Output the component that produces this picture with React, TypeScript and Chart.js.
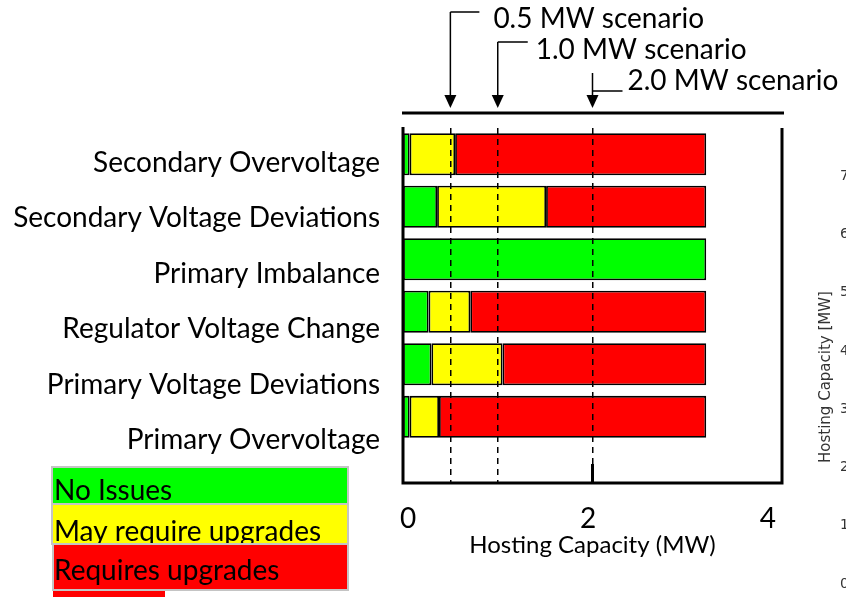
import React, { useEffect, useRef } from "react";
import { Chart, registerables } from "chart.js";

Chart.register(...registerables);

// ---- data ----
const categories = [
  "Secondary Overvoltage",
  "Secondary Voltage Deviations",
  "Primary Imbalance",
  "Regulator Voltage Change",
  "Primary Voltage Deviations",
  "Primary Overvoltage",
];
const barPositions = [0, 1, 2, 3, 4, 5];
const noIssues = [0.07, 0.36, 3.2, 0.27, 0.3, 0.07];
const mayRequire = [0.48, 1.15, 0, 0.44, 0.75, 0.31];
const requiresUpgrades = [2.65, 1.69, 0, 2.49, 2.15, 2.82];
const xTickValues = [0, 2, 4];
const scenarioValues = [0.5, 1.0, 2.0];
const scenarioLabels = ["0.5 MW scenario", "1.0 MW scenario", "2.0 MW scenario"];
const legendLabels = ["No Issues", "May require upgrades", "Requires upgrades"];
const sideTickLabels = ["7", "6", "5", "4", "3", "2", "1", "0"];
const sideAxisTitle = "Hosting Capacity [MW]";
const xAxisTitle = "Hosting Capacity (MW)";

const GREEN = "#00ff00";
const YELLOW = "#ffff00";
const RED = "#ff0000";
const FONT = "Lato, 'Open Sans', sans-serif";

const mk = (label: string, arr: number[], color: string) => ({
  label,
  data: arr.map((v, i) => ({ x: v, y: barPositions[i] })),
  backgroundColor: color,
  borderColor: "#000",
  borderWidth: 1.8,
  borderSkipped: false,
  categoryPercentage: 0.8,
  barPercentage: 1,
  xAxisID: "x",
  yAxisID: "y",
});

// arrow geometry for the scenario call-outs
const arrowSpecs = [
  { vTop: 12, hY: 12, hLen: 29, textDx: 43, textY: 19 },
  { vTop: 42, hY: 42, hLen: 30, textDx: 38, textY: 50 },
  { vTop: 73, hY: 91, hLen: 30, textDx: 35, textY: 81 },
];

const overlayPlugin = {
  id: "overlay",
  afterDraw(chart: any) {
    const { ctx, chartArea: a, scales } = chart;
    const xs = scales.x;
    ctx.save();
    ctx.strokeStyle = "#000";
    ctx.lineCap = "butt";
    // frame
    ctx.lineWidth = 3;
    ctx.beginPath();
    ctx.moveTo(a.left, a.top - 1);
    ctx.lineTo(a.left, a.bottom);
    ctx.moveTo(a.left - 1.5, a.bottom);
    ctx.lineTo(a.right + 1.5, a.bottom);
    ctx.moveTo(a.right, a.top);
    ctx.lineTo(a.right, a.bottom);
    // top rule
    ctx.moveTo(a.left - 1, a.top - 15);
    ctx.lineTo(a.right + 2, a.top - 15);
    // thick tick at 2
    const x2 = xs.getPixelForValue(2);
    ctx.moveTo(x2, a.bottom - 19);
    ctx.lineTo(x2, a.bottom);
    ctx.stroke();

    // scenario arrows
    ctx.lineWidth = 1.5;
    ctx.fillStyle = "#000";
    ctx.font = `28px ${FONT}`;
    ctx.textBaseline = "middle";
    ctx.textAlign = "left";
    scenarioValues.forEach((v, i) => {
      const s = arrowSpecs[i];
      const x = xs.getPixelForValue(v);
      const tip = a.top - 20;
      ctx.beginPath();
      ctx.moveTo(x, s.vTop);
      ctx.lineTo(x, tip - 12);
      ctx.moveTo(x, s.hY);
      ctx.lineTo(x + s.hLen, s.hY);
      ctx.stroke();
      ctx.beginPath();
      ctx.moveTo(x - 6, tip - 13);
      ctx.lineTo(x + 6, tip - 13);
      ctx.lineTo(x, tip);
      ctx.closePath();
      ctx.fill();
      ctx.fillText(scenarioLabels[i], x + s.textDx, s.textY);
    });

    // legend boxes
    const colors = [GREEN, YELLOW, RED];
    const boxes = [
      { x: 52, y: 467, w: 296, h: 37, ty: 500 },
      { x: 52, y: 504, w: 296, h: 40, ty: 541 },
      { x: 53, y: 544, w: 295, h: 46, ty: 580 },
    ];
    ctx.textBaseline = "alphabetic";
    ctx.font = `28px ${FONT}`;
    boxes.forEach((b, i) => {
      ctx.fillStyle = colors[i];
      ctx.fillRect(b.x, b.y, b.w, b.h);
      if (i === 2) ctx.fillRect(b.x, b.y + b.h, 112, 8);
      ctx.strokeStyle = "#c4c4c4";
      ctx.lineWidth = 2;
      ctx.strokeRect(b.x, b.y, b.w, b.h);
      ctx.fillStyle = "#000";
      ctx.fillText(legendLabels[i], 54, b.ty);
    });

    // clipped neighbouring panel on the right
    ctx.fillStyle = "#333";
    ctx.font = "14px 'DejaVu Sans', sans-serif";
    ctx.textBaseline = "middle";
    ctx.textAlign = "left";
    sideTickLabels.forEach((t, i) => {
      ctx.fillText(t, 840, 176 + i * 58.3);
    });
    ctx.save();
    ctx.translate(826, 377);
    ctx.rotate(-Math.PI / 2);
    ctx.textAlign = "center";
    ctx.font = "15px 'DejaVu Sans', sans-serif";
    ctx.fillText(sideAxisTitle, 0, 0);
    ctx.restore();

    ctx.restore();
  },
};

export default function App() {
  const ref = useRef<HTMLCanvasElement>(null);
  useEffect(() => {
    if (!ref.current) return;
    const chart = new Chart(ref.current, {
      type: "bar",
      data: {
        datasets: [
          mk(legendLabels[0], noIssues, GREEN),
          mk(legendLabels[1], mayRequire, YELLOW),
          mk(legendLabels[2], requiresUpgrades, RED),
        ] as any,
      },
      options: {
        indexAxis: "y",
        responsive: false,
        animation: false,
        layout: { padding: { top: 128, right: 64, left: 0, bottom: 0 } },
        plugins: { legend: { display: false }, tooltip: { enabled: false } },
        scales: {
          x: {
            type: "linear",
            min: 0,
            max: 4,
            stacked: true,
            position: "bottom",
            afterBuildTicks: (s: any) => {
              s.ticks = scenarioValues.map((v) => ({ value: v }));
            },
            ticks: { display: false },
            grid: { color: "#000", lineWidth: 1.5, drawTicks: false, z: 1 },
            border: { display: false, dash: [6, 5] },
            afterFit: (s: any) => {
              s.height = 0;
            },
          },
          xl: {
            type: "linear",
            min: -0.056,
            max: 4.156,
            position: "bottom",
            afterBuildTicks: (s: any) => {
              s.ticks = xTickValues.map((v) => ({ value: v }));
            },
            ticks: { font: { family: FONT, size: 28 }, color: "#000", padding: 19 },
            grid: { display: false, drawTicks: false },
            border: { display: false },
            title: {
              display: true,
              text: xAxisTitle,
              font: { family: FONT, size: 24 },
              color: "#000",
              padding: { top: 0, bottom: 37 },
            },
            afterFit: (s: any) => {
              s.height = 114;
            },
          },
          y: {
            type: "linear",
            min: -0.5,
            max: 6.26,
            reverse: true,
            stacked: true,
            offset: false,
            grid: { offset: false },
            display: false,
            afterBuildTicks: (s: any) => {
              s.ticks = barPositions.map((v) => ({ value: v }));
            },
          },
          yl: {
            type: "linear",
            position: "left",
            min: -0.632,
            max: 5.776,
            reverse: true,
            offset: false,
            afterBuildTicks: (s: any) => {
              s.ticks = barPositions.map((v) => ({ value: v }));
            },
            ticks: {
              callback: (v: any) => categories[v as number],
              font: { family: FONT, size: 28 },
              color: "#000",
              padding: 23,
            },
            grid: { display: false, drawTicks: false, offset: false },
            border: { display: false },
            afterFit: (s: any) => {
              s.width = 403;
            },
          },
        } as any,
      },
      plugins: [overlayPlugin],
    });
    return () => chart.destroy();
  }, []);
  return (
    <div style={{ position: "fixed", left: 0, top: 0, width: 846, height: 597, background: "#fff" }}>
      <canvas ref={ref} width={846} height={597} />
    </div>
  );
}
